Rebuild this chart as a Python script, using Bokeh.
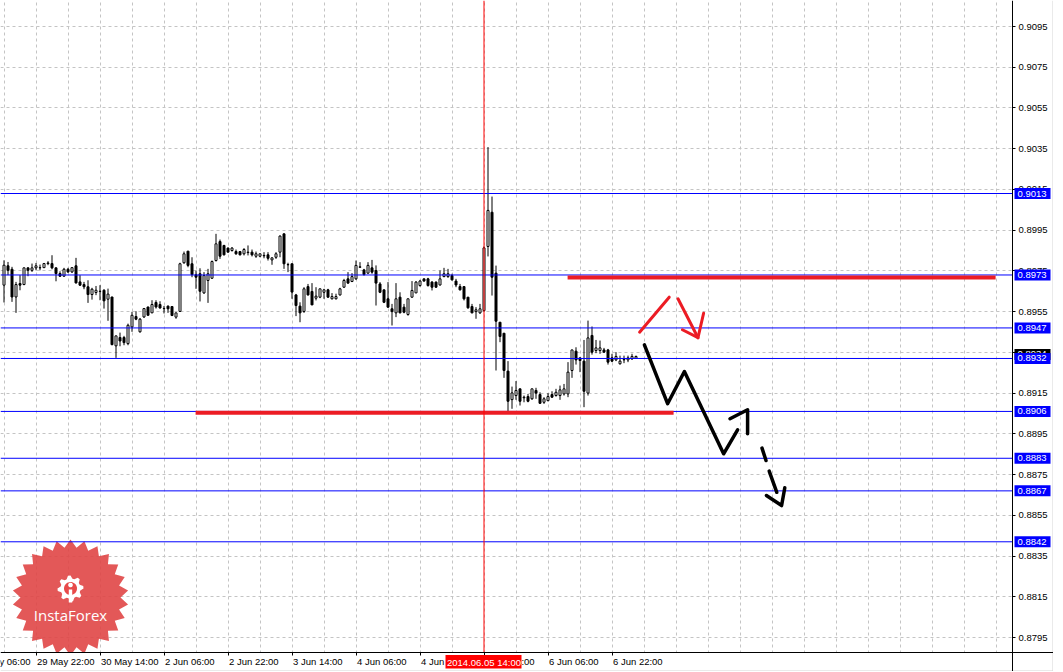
import numpy as np
from bokeh.plotting import figure
from bokeh.models import FixedTicker, Label, PrintfTickFormatter, Range1d, LinearAxis
from bokeh.core.properties import value
from bokeh.embed import file_html
from bokeh.resources import INLINE

# ---------------- DATA (H1 candles, bar index 0 = 29 May 14:00) ----------------
opens = [0.89680, 0.89775, 0.89758, 0.89622, 0.89688, 0.89683, 0.89765, 0.89753, 0.89765, 0.89765,
         0.89766, 0.89786, 0.89786, 0.89765, 0.89737, 0.89724, 0.89758, 0.89745, 0.89775, 0.89696,
         0.89683, 0.89672, 0.89634, 0.89644, 0.89650, 0.89655, 0.89611, 0.89622, 0.89382, 0.89423,
         0.89423, 0.89393, 0.89475, 0.89526, 0.89451, 0.89524, 0.89573, 0.89544, 0.89595, 0.89585,
         0.89565, 0.89577, 0.89575, 0.89523, 0.89551, 0.89790, 0.89847, 0.89785, 0.89731, 0.89736,
         0.89642, 0.89703, 0.89714, 0.89801, 0.89894, 0.89875, 0.89862, 0.89850, 0.89845, 0.89845,
         0.89834, 0.89842, 0.89842, 0.89822, 0.89822, 0.89826, 0.89829, 0.89804, 0.89817, 0.89842,
         0.89932, 0.89781, 0.89785, 0.89632, 0.89577, 0.89551, 0.89673, 0.89649, 0.89616, 0.89621,
         0.89645, 0.89657, 0.89613, 0.89613, 0.89632, 0.89670, 0.89711, 0.89698, 0.89711, 0.89768,
         0.89755, 0.89739, 0.89765, 0.89752, 0.89686, 0.89657, 0.89613, 0.89564, 0.89544, 0.89621,
         0.89572, 0.89536, 0.89621, 0.89642, 0.89678, 0.89711, 0.89711, 0.89695, 0.89695, 0.89681,
         0.89722, 0.89722, 0.89727, 0.89700, 0.89673, 0.89673, 0.89621, 0.89575, 0.89550, 0.89544,
         0.89555, 0.89870, 0.90038, 0.89739, 0.89498, 0.89444, 0.89258, 0.89118, 0.89138, 0.89171,
         0.89127, 0.89133, 0.89122, 0.89163, 0.89143, 0.89105, 0.89113, 0.89143, 0.89138, 0.89138,
         0.89146, 0.89146, 0.89261, 0.89356, 0.89323, 0.89307, 0.89150, 0.89433, 0.89359, 0.89359,
         0.89362, 0.89362, 0.89323, 0.89313, 0.89294, 0.89313, 0.89313, 0.89318, 0.89321]
highs = [0.89802, 0.89794, 0.89770, 0.89696, 0.89729, 0.89766, 0.89766, 0.89786, 0.89789, 0.89781,
         0.89789, 0.89798, 0.89827, 0.89766, 0.89748, 0.89765, 0.89765, 0.89766, 0.89814, 0.89729,
         0.89696, 0.89704, 0.89667, 0.89676, 0.89680, 0.89660, 0.89663, 0.89622, 0.89431, 0.89447,
         0.89431, 0.89491, 0.89549, 0.89552, 0.89519, 0.89568, 0.89573, 0.89606, 0.89606, 0.89601,
         0.89578, 0.89580, 0.89575, 0.89544, 0.89790, 0.89845, 0.89847, 0.89817, 0.89752, 0.89763,
         0.89744, 0.89760, 0.89801, 0.89932, 0.89904, 0.89878, 0.89865, 0.89867, 0.89855, 0.89845,
         0.89862, 0.89875, 0.89855, 0.89845, 0.89834, 0.89842, 0.89842, 0.89817, 0.89842, 0.89924,
         0.89932, 0.89790, 0.89785, 0.89637, 0.89596, 0.89670, 0.89686, 0.89690, 0.89670, 0.89662,
         0.89662, 0.89662, 0.89641, 0.89638, 0.89667, 0.89711, 0.89744, 0.89739, 0.89801, 0.89793,
         0.89760, 0.89793, 0.89804, 0.89777, 0.89695, 0.89657, 0.89695, 0.89588, 0.89690, 0.89645,
         0.89588, 0.89613, 0.89700, 0.89700, 0.89706, 0.89711, 0.89716, 0.89700, 0.89698, 0.89752,
         0.89765, 0.89760, 0.89736, 0.89711, 0.89686, 0.89673, 0.89621, 0.89588, 0.89572, 0.89588,
         0.89870, 0.90358, 0.90115, 0.89776, 0.89498, 0.89444, 0.89307, 0.89182, 0.89209, 0.89171,
         0.89138, 0.89146, 0.89171, 0.89176, 0.89154, 0.89130, 0.89150, 0.89159, 0.89171, 0.89187,
         0.89195, 0.89302, 0.89362, 0.89375, 0.89323, 0.89411, 0.89506, 0.89477, 0.89411, 0.89408,
         0.89372, 0.89367, 0.89343, 0.89351, 0.89334, 0.89334, 0.89334, 0.89343, 0.89334]
lows = [0.89595, 0.89729, 0.89598, 0.89544, 0.89655, 0.89680, 0.89724, 0.89745, 0.89753, 0.89753,
        0.89765, 0.89778, 0.89758, 0.89699, 0.89721, 0.89721, 0.89740, 0.89740, 0.89688, 0.89676,
        0.89660, 0.89593, 0.89609, 0.89631, 0.89606, 0.89565, 0.89505, 0.89385, 0.89323, 0.89380,
        0.89385, 0.89385, 0.89451, 0.89508, 0.89447, 0.89519, 0.89532, 0.89544, 0.89565, 0.89565,
        0.89541, 0.89544, 0.89528, 0.89515, 0.89551, 0.89785, 0.89768, 0.89719, 0.89662, 0.89600,
        0.89637, 0.89593, 0.89711, 0.89796, 0.89809, 0.89826, 0.89842, 0.89845, 0.89829, 0.89826,
        0.89826, 0.89826, 0.89821, 0.89814, 0.89817, 0.89812, 0.89801, 0.89780, 0.89809, 0.89817,
        0.89760, 0.89744, 0.89613, 0.89528, 0.89498, 0.89544, 0.89629, 0.89583, 0.89605, 0.89616,
        0.89613, 0.89618, 0.89610, 0.89610, 0.89629, 0.89667, 0.89686, 0.89695, 0.89706, 0.89765,
        0.89727, 0.89736, 0.89736, 0.89580, 0.89641, 0.89592, 0.89569, 0.89482, 0.89523, 0.89542,
        0.89542, 0.89530, 0.89618, 0.89641, 0.89673, 0.89698, 0.89673, 0.89654, 0.89667, 0.89678,
        0.89719, 0.89716, 0.89703, 0.89670, 0.89654, 0.89605, 0.89564, 0.89542, 0.89515, 0.89539,
        0.89550, 0.89821, 0.89629, 0.89261, 0.89400, 0.89225, 0.89061, 0.89073, 0.89117, 0.89089,
        0.89105, 0.89105, 0.89117, 0.89122, 0.89097, 0.89097, 0.89110, 0.89127, 0.89133, 0.89117,
        0.89138, 0.89130, 0.89225, 0.89290, 0.89253, 0.89081, 0.89138, 0.89339, 0.89346, 0.89343,
        0.89348, 0.89290, 0.89302, 0.89307, 0.89290, 0.89297, 0.89302, 0.89313, 0.89318]
closes = [0.89778, 0.89753, 0.89622, 0.89683, 0.89680, 0.89765, 0.89753, 0.89765, 0.89775, 0.89766,
          0.89786, 0.89789, 0.89765, 0.89737, 0.89724, 0.89758, 0.89745, 0.89766, 0.89691, 0.89680,
          0.89672, 0.89634, 0.89660, 0.89655, 0.89649, 0.89603, 0.89636, 0.89388, 0.89431, 0.89406,
          0.89398, 0.89483, 0.89532, 0.89513, 0.89513, 0.89565, 0.89532, 0.89585, 0.89573, 0.89568,
          0.89566, 0.89564, 0.89531, 0.89544, 0.89785, 0.89834, 0.89777, 0.89732, 0.89719, 0.89650,
          0.89727, 0.89736, 0.89796, 0.89883, 0.89822, 0.89829, 0.89842, 0.89862, 0.89834, 0.89829,
          0.89855, 0.89840, 0.89829, 0.89834, 0.89834, 0.89824, 0.89812, 0.89814, 0.89834, 0.89921,
          0.89785, 0.89780, 0.89646, 0.89580, 0.89544, 0.89662, 0.89632, 0.89583, 0.89626, 0.89662,
          0.89657, 0.89621, 0.89624, 0.89624, 0.89662, 0.89703, 0.89690, 0.89722, 0.89777, 0.89770,
          0.89732, 0.89777, 0.89744, 0.89690, 0.89645, 0.89596, 0.89572, 0.89550, 0.89613, 0.89544,
          0.89547, 0.89613, 0.89654, 0.89695, 0.89700, 0.89700, 0.89678, 0.89670, 0.89670, 0.89711,
          0.89736, 0.89736, 0.89706, 0.89681, 0.89657, 0.89613, 0.89569, 0.89544, 0.89559, 0.89564,
          0.89863, 0.90047, 0.89719, 0.89503, 0.89428, 0.89261, 0.89110, 0.89151, 0.89163, 0.89110,
          0.89130, 0.89110, 0.89171, 0.89150, 0.89100, 0.89122, 0.89133, 0.89130, 0.89154, 0.89166,
          0.89171, 0.89253, 0.89362, 0.89313, 0.89310, 0.89159, 0.89421, 0.89351, 0.89372, 0.89372,
          0.89351, 0.89302, 0.89307, 0.89330, 0.89307, 0.89315, 0.89323, 0.89330, 0.89330]

# axis ticks
y_ticks = [0.8795, 0.8815, 0.8835, 0.8855, 0.8875, 0.8895, 0.8915, 0.8935,
           0.8955, 0.8975, 0.8995, 0.9015, 0.9035, 0.9055, 0.9075, 0.9095]
x_tick_bars = [-8, 8, 24, 40, 56, 72, 88, 104, 120, 136, 152]
x_tick_labels = ["29 May 06:00", "29 May 22:00", "30 May 14:00", "2 Jun 06:00", "2 Jun 22:00",
                 "3 Jun 14:00", "4 Jun 06:00", "4 Jun 22:00", "5 Jun 14:00", "6 Jun 06:00", "6 Jun 22:00"]
cross_bar = 120
cross_label = "2014.06.05 14:00"

# horizontal levels (blue lines with price tags)
blue_levels = [0.9013, 0.8973, 0.8947, 0.8932, 0.8906, 0.8883, 0.8867, 0.8842]
bid_price = 0.8934

# thick red levels
red_levels = [0.89718, 0.89053]
red_start = [140.9, 47.9]
red_end = [247.9, 167.4]

# hand-drawn forecast arrows (bar, price)
black_path_bar = [160.1, 165.9, 170.1, 179.9, 183.4]
black_path_price = [0.89387, 0.89098, 0.89256, 0.88852, 0.88970]
black_head1_bar = [181.5, 185.9, 185.9]
black_head1_price = [0.89024, 0.89068, 0.88950]
black_dash1_bar = [189.5, 190.5]
black_dash1_price = [0.88880, 0.88819]
black_dash2_bar = [191.3, 193.2]
black_dash2_price = [0.88767, 0.88663]
black_head2_bar = [190.6, 194.4, 195.2]
black_head2_price = [0.88647, 0.88598, 0.88685]
red_up_bar = [158.9, 166.3]
red_up_price = [0.89449, 0.89621]
red_down_bar = [168.5, 173.5]
red_down_price = [0.89613, 0.89422]
red_head_bar = [169.6, 173.5, 174.9]
red_head_price = [0.89461, 0.89422, 0.89542]

# ---------------- LAYOUT ----------------
PX_PER_BAR = 4.0
PX_PER_PRICE = 20367.0
CANVAS_W, CANVAS_H = 1053, 671
AXIS_PX_X, AXIS_PX_Y = 1012, 652        # chart-area edges (pixels)
X0 = -0.875
X1 = X0 + CANVAS_W / PX_PER_BAR
Y_TOP = 0.9095 + 26 / PX_PER_PRICE
Y_BOT = Y_TOP - CANVAS_H / PX_PER_PRICE


def px_bar(px):
    return np.asarray(px, dtype=float) / PX_PER_BAR + X0


def px_price(py):
    return Y_TOP - np.asarray(py, dtype=float) / PX_PER_PRICE


X_AXIS_BAR = float(px_bar(AXIS_PX_X))
Y_AXIS_PRICE = float(px_price(AXIS_PX_Y))

FONT = "Liberation Sans"
FS = "9.5px"

p = figure(frame_width=CANVAS_W, frame_height=CANVAS_H,
           x_range=Range1d(X0, X1), y_range=Range1d(Y_BOT, Y_TOP),
           x_axis_location=None, y_axis_location=None,
           output_backend="svg", toolbar_location=None,
           min_border_left=0, min_border_top=0, min_border_right=0, min_border_bottom=0)
p.outline_line_color = None
p.background_fill_color = "white"
p.border_fill_color = "white"

# grids
p.xgrid.ticker = FixedTicker(ticks=list(range(0, 256, 8)))
p.ygrid.ticker = FixedTicker(ticks=y_ticks)
for g in (p.xgrid[0], p.ygrid[0]):
    g.grid_line_color = "#c4c4c4"
    g.grid_line_dash = "3 3"
    g.grid_line_width = 1

# y axis on the right edge of the chart area
yax = LinearAxis(fixed_location=X_AXIS_BAR, ticker=FixedTicker(ticks=y_ticks),
                 formatter=PrintfTickFormatter(format="%.4f"))
yax.major_tick_out = 3
yax.major_tick_in = 0
yax.minor_tick_out = 0
yax.minor_tick_in = 0
yax.major_label_standoff = 3
yax.major_label_text_font = FONT
yax.major_label_text_font_size = FS
yax.major_label_text_color = "black"
yax.axis_line_color = "black"
yax.major_tick_line_color = "black"
p.add_layout(yax, "right")

# x axis on the bottom edge of the chart area (labels drawn left-aligned below)
xax = LinearAxis(fixed_location=Y_AXIS_PRICE, ticker=FixedTicker(ticks=x_tick_bars))
xax.major_tick_out = 3
xax.major_tick_in = 0
xax.minor_tick_out = 0
xax.minor_tick_in = 0
xax.major_label_text_color = None
xax.axis_line_color = "black"
xax.major_tick_line_color = "black"
p.add_layout(xax, "below")

# ---------------- logo ----------------
n_spikes = 26
ang = np.linspace(0, 2 * np.pi, 2 * n_spikes, endpoint=False) + np.pi / 2
rad = np.where(np.arange(2 * n_spikes) % 2 == 0, 58.0, 50.0)
p.patch(px_bar(70 + rad * np.cos(ang)), px_price(597 - rad * np.sin(ang)),
        fill_color="#e04646", fill_alpha=0.9, line_color=None)
g_ang = np.linspace(0, 2 * np.pi, 32, endpoint=False)
g_rad = np.where((np.arange(32) // 2) % 2 == 0, 13.0, 10.0)
p.patch(px_bar(70 + g_rad * np.cos(g_ang)), px_price(588 - g_rad * np.sin(g_ang)),
        fill_color="white", line_color=None)
c_ang = np.linspace(0, 2 * np.pi, 40)
p.patch(px_bar(70 + 6.5 * np.cos(c_ang)), px_price(588 - 6.5 * np.sin(c_ang)),
        fill_color="#e84a4a", line_color=None)
p.patch(px_bar(70 + 2.3 * np.cos(c_ang)), px_price(584.5 - 2.3 * np.sin(c_ang)),
        fill_color="white", line_color=None)
p.quad(left=px_bar(68.3), right=px_bar(71.7), top=px_price(589), bottom=px_price(602),
       fill_color="white", line_color=None)
p.text(x=[px_bar(70)], y=[px_price(614)], text=["InstaForex"], text_color="white",
       text_font=value("Open Sans"), text_font_size="15px", text_align="center",
       text_baseline="middle")

# white masks outside the chart area (axis label zones)
p.quad(left=[X_AXIS_BAR, X0], right=[X1, X1], top=[Y_TOP, Y_AXIS_PRICE], bottom=[Y_BOT, Y_BOT],
       fill_color="white", line_color=None)
# window border
p.segment(x0=[px_bar(1052.5), X0], y0=[Y_TOP, px_price(670.5)],
          x1=[px_bar(1052.5), X1], y1=[Y_BOT, px_price(670.5)],
          line_color="#d4d4d4", line_width=1)

# ---------------- candles ----------------
o = np.array(opens)
h = np.array(highs)
lo = np.array(lows)
c = np.array(closes)
bars = np.arange(len(o))
bull = c >= o
bear = ~bull
p.segment(x0=bars, y0=lo, x1=bars, y1=h, line_color="black", line_width=1)
p.vbar(x=bars[bull], width=0.5, top=c[bull], bottom=o[bull],
       fill_color="white", line_color="black", line_width=1)
p.vbar(x=bars[bear], width=0.5, top=o[bear], bottom=c[bear],
       fill_color="black", line_color="black", line_width=1)

# blue horizontal lines (to the axis)
p.segment(x0=[X0] * len(blue_levels), y0=blue_levels,
          x1=[X_AXIS_BAR] * len(blue_levels), y1=blue_levels,
          line_color="#0000ff", line_width=1)

# thick red levels
p.segment(x0=red_start, y0=red_levels, x1=red_end, y1=red_levels,
          line_color="#ec1c24", line_width=4)

# crosshair
p.segment(x0=[cross_bar], y0=[Y_AXIS_PRICE], x1=[cross_bar], y1=[Y_TOP],
          line_color="#ff0000", line_width=1)

# forecast arrows
p.multi_line(xs=[red_up_bar, red_down_bar, red_head_bar],
             ys=[red_up_price, red_down_price, red_head_price],
             line_color="#ec1c24", line_width=3, line_cap="round", line_join="round")
p.multi_line(xs=[black_path_bar, black_head1_bar, black_dash1_bar, black_dash2_bar, black_head2_bar],
             ys=[black_path_price, black_head1_price, black_dash1_price, black_dash2_price, black_head2_price],
             line_color="black", line_width=3.5, line_cap="round", line_join="round")

# x tick labels (left aligned at tick, MT4 style)
lab_y = float(px_price(AXIS_PX_Y + 3.5))
for b, t in zip(x_tick_bars, x_tick_labels):
    p.add_layout(Label(x=b, y=lab_y, text=t, text_align="left", text_baseline="top",
                       text_font=FONT, text_font_size=FS, text_color="black", x_offset=1))

# ---------------- tags drawn on top of the axes ----------------
TAG_H = 5.5 / PX_PER_PRICE          # half height of a price tag
tag_left = float(px_bar(1014))
tag_right = float(px_bar(1050))
tag_text_x = float(px_bar(1017))

# crosshair time tag
p.quad(left=[float(px_bar(445))], right=[float(px_bar(521))],
       top=[float(px_price(654.5))], bottom=[float(px_price(668))],
       fill_color="#ff0000", line_color=None, level="overlay")
p.text(x=[cross_bar], y=[float(px_price(661.5))], text=[cross_label], text_color="white",
       text_font=value(FONT), text_font_size=FS, text_align="center", text_baseline="middle",
       level="overlay")

# bid tag (mostly hidden) then blue level tags
tag_prices = [bid_price] + blue_levels
tag_colors = ["black"] + ["#0000ff"] * len(blue_levels)
for pr, col in zip(tag_prices, tag_colors):
    p.quad(left=[tag_left], right=[tag_right], top=[pr + TAG_H], bottom=[pr - TAG_H],
           fill_color=col, line_color=None, level="overlay")
    p.text(x=[tag_text_x], y=[pr], text=[f"{pr:.4f}"], text_color="white",
           text_font=value(FONT), text_font_size=FS, text_align="left", text_baseline="middle",
           level="overlay")

open("out.html", "w").write(file_html(p, INLINE))
